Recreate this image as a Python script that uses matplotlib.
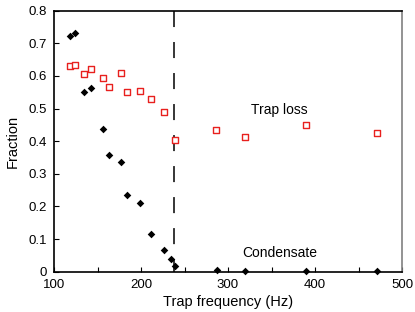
import matplotlib.pyplot as plt
from matplotlib.ticker import MultipleLocator, FuncFormatter

plt.rcParams["font.family"] = ["Liberation Sans", "DejaVu Sans"]

freq = [118, 124, 135, 142, 156, 163, 177, 184, 199, 212, 227, 235, 239,
        287, 319, 390, 471]
condensate = [0.723, 0.731, 0.552, 0.563, 0.437, 0.357, 0.337, 0.234, 0.212,
              0.115, 0.067, 0.040, 0.017, 0.005, 0.003, 0.003, 0.003]
loss_freq = [118, 124, 135, 142, 156, 163, 177, 184, 199, 212, 227, 239,
             286, 319, 390, 471]
trap_loss = [0.629, 0.633, 0.606, 0.620, 0.594, 0.566, 0.610, 0.550, 0.555,
             0.530, 0.490, 0.404, 0.435, 0.413, 0.449, 0.425]
threshold = 238.5

fig = plt.figure(figsize=(4.15, 3.12), dpi=100)
ax = fig.add_axes([54 / 415, 1 - 271.7 / 312, 348 / 415, 261 / 312])

# dashed marker line, drawn from the top down so the dash pattern starts at the top
ax.plot([threshold, threshold], [0.8, 0], color="black", lw=1.1,
        dashes=(10.5, 9.8), zorder=1)
ax.scatter(loss_freq, trap_loss, marker="s", s=22, facecolors="white",
           edgecolors="#e8201e", linewidths=1.0, zorder=3, clip_on=False)
ax.scatter(freq, condensate, marker="D", s=15, color="black",
           linewidths=0, zorder=4, clip_on=False)

ax.text(359, 0.496, "Trap loss", ha="center", va="center", fontsize=10)
ax.text(360, 0.058, "Condensate", ha="center", va="center", fontsize=10)

ax.set_xlim(100, 500)
ax.set_ylim(0, 0.8)
ax.xaxis.set_major_locator(MultipleLocator(100))
ax.xaxis.set_minor_locator(MultipleLocator(50))
ax.yaxis.set_major_locator(MultipleLocator(0.1))
ax.yaxis.set_major_formatter(FuncFormatter(lambda v, p: "0" if abs(v) < 1e-9 else f"{v:.1f}"))
ax.tick_params(axis="both", which="both", direction="in", labelsize=9.5,
               top=False, right=False, width=0.8, length=3.5)
ax.tick_params(axis="x", which="major", pad=5)
ax.tick_params(axis="y", which="major", pad=5)

ax.set_xlabel("Trap frequency (Hz)", fontsize=10.5, labelpad=3)
ax.set_ylabel("Fraction", fontsize=10.5, labelpad=6)

for side in ["left", "bottom", "top"]:
    ax.spines[side].set_color("black")
    ax.spines[side].set_linewidth(1.2)
ax.spines["right"].set_color("#808080")
ax.spines["right"].set_linewidth(1.2)

fig.savefig("out.png", dpi=100)
